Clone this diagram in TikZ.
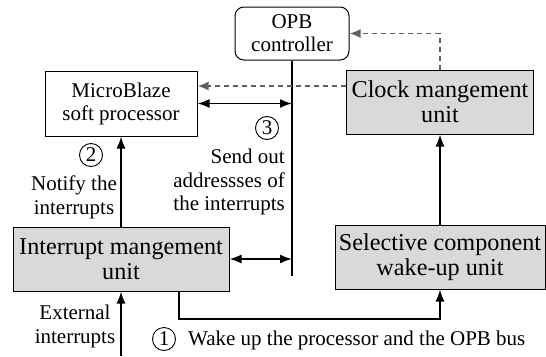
\documentclass[tikz,border=0pt]{standalone}
\usepackage{fontspec}
\setmainfont{Liberation Serif}
\usetikzlibrary{arrows.meta}

\begin{document}
\begin{tikzpicture}[x=1pt, y=-1pt,
    unitbox/.style={draw=borderColour, line width=1pt, align=center, inner sep=0pt},
    bigunit/.style={unitbox, fill=fillColour, font=\fontsize{24.2}{25}\selectfont},
    smallunit/.style={unitbox, font=\fontsize{21}{23}\selectfont},
    note/.style={font=\fontsize{21}{23.5}\selectfont, inner sep=0pt},
    numcircle/.style={circle, draw=borderColour, line width=0.9pt, minimum size=23pt, inner sep=0pt, font=\fontsize{21}{22}\selectfont},
    oneway/.style={line width=1.8pt, -{Latex[length=12pt,width=9pt]}},
    twoway/.style={line width=1.8pt, {Latex[length=12pt,width=9pt]}-{Latex[length=12pt,width=9pt]}},
    ctrl/.style={draw=dashColour, line width=1.8pt, dash pattern=on 5pt off 4pt, -{Latex[length=11pt,width=9pt]}}]
    % Define colours
    \definecolor{borderColour}{HTML}{000000}
    \definecolor{fillColour}{HTML}{D9D9D9}
    \definecolor{dashColour}{HTML}{5F5F5F}

    % Fix the page size
    \useasboundingbox (0,0) rectangle (546,356);

    % Draw the units
    \node[smallunit, rounded corners=9pt, minimum width=114, minimum height=53] (opb) at (292,33.5) {OPB\\controller};
    \node[smallunit, minimum width=152, minimum height=65] (mb) at (121,103.5) {MicroBlaze\\soft processor};
    \node[bigunit, minimum width=187, minimum height=64] (clk) at (440,102) {Clock mangement\\unit};
    \node[bigunit, minimum width=216, minimum height=64] (imu) at (121,259) {Interrupt mangement\\unit};
    \node[bigunit, minimum width=210, minimum height=64] (scw) at (440,257) {Selective component\\wake-up unit};

    % Define free ends
    \coordinate (busEnd) at (292,276);
    \coordinate (dashLevel) at (0,86);
    \coordinate (extIn) at (121,356);
    \coordinate (wakeTurn) at (179,319);

    % Draw the OPB bus
    \draw[line width=1.8pt] (opb.south) -- (busEnd);

    % Draw the connectors
    \draw[twoway] (mb.east) -- (mb.east -| busEnd);
    \draw[twoway] (imu.east) -- (imu.east -| busEnd);
    \draw[ctrl] (clk.west |- dashLevel) -- (mb.east |- dashLevel);
    \draw[ctrl] (clk.north) |- (opb.east);
    \draw[oneway] (scw) -- (clk);
    \draw[oneway] (imu) -- (mb);
    \draw[oneway] (extIn) -- (imu);
    \draw[oneway] (imu.south -| wakeTurn) -- (wakeTurn) -| (scw);

    % Label the steps
    \node[numcircle] (n1) at (164,339) {1};
    \node[numcircle] (n2) at (91,155) {2};
    \node[numcircle] (n3) at (267,128) {3};
    \node[note, anchor=west] (wakeTxt) at (188,340) {Wake up the processor and the OPB bus};
    \node[note, align=center] (notifyTxt) at (74,197.5) {Notify the\\interrupts};
    \node[note, align=right, anchor=east] (sendTxt) at (285,182) {Send out\\addressses of\\the interrupts};
    \node[note, align=center] (extTxt) at (75,326.5) {External\\interrupts};

\end{tikzpicture}
\end{document}
